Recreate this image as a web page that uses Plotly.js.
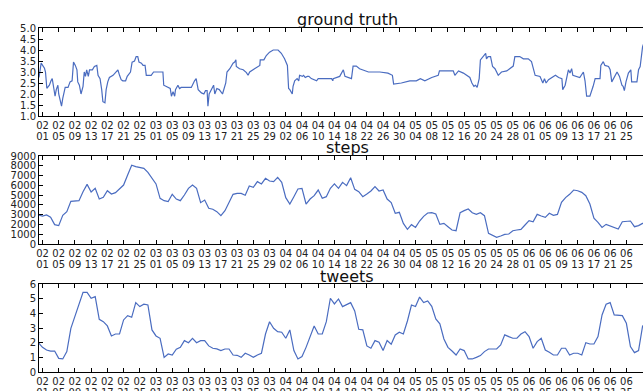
<!DOCTYPE html>
<html>
<head>
<meta charset="utf-8">
<script src="https://cdn.plot.ly/plotly-3.0.1.min.js"></script>
<style>
html,body{margin:0;padding:0;background:#fff;overflow:hidden;}
#chart{width:643px;height:391px;}
</style>
</head>
<body>
<div id="chart"></div>
<script>
// ---------- DATA ----------
const panelTitles = ['ground truth', 'steps', 'tweets'];

// ground truth: irregular samples, day offset from 2015-02-01 and value
const gtDay = [-0.86,-0.33,0.49,0.74,1.07,1.3,1.7,2.1,2.4,2.8,3.1,3.4,3.8,4.0,4.4,4.7,5.0,5.6,6.3,6.8,7.3,7.65,8.1,8.5,8.7,9.1,9.5,10.0,10.3,10.6,10.9,11.3,11.6,12.3,12.8,13.4,13.7,14.2,14.6,14.9,15.4,15.7,16.1,16.5,17.4,18.2,18.6,19.0,19.4,19.8,20.5,20.9,21.7,22.1,22.7,23.1,23.5,23.8,24.4,24.8,25.3,25.6,26.8,27.4,29.7,29.9,30.9,31.5,31.8,32.2,32.6,32.8,33.4,33.8,34.2,36.7,37.5,37.9,38.4,39.2,39.8,40.2,40.6,40.8,41.1,41.6,42.2,42.5,43.0,43.6,44.4,45.2,45.5,46.2,47.0,47.4,47.7,47.8,48.6,49.5,50.3,50.7,51.1,52.3,53.6,53.7,54.6,55.2,56.0,56.9,58.1,58.9,59.7,60.4,60.7,61.0,61.4,61.6,61.8,62.2,62.8,63.2,63.4,64.1,64.4,64.8,65.3,65.7,66.3,67.6,68.0,71.3,71.6,71.7,73.3,73.8,74.2,74.6,75.8,76.2,76.6,77.4,78.2,79.5,80.4,83.2,85.2,86.3,86.6,88.5,90.6,92.2,93.2,94.3,96.0,97.6,97.9,101.3,101.7,102.6,103.8,105.4,105.9,106.4,106.8,107.2,107.7,108.0,108.7,109.3,109.5,109.9,110.5,111.0,111.6,112.4,113.2,114.5,116.1,116.5,117.7,118.6,119.8,120.6,121.5,122.7,123.4,123.8,124.2,124.8,126.5,127.3,128.1,128.3,128.9,129.7,130.1,130.5,130.8,132.5,133.4,133.8,134.2,135.0,135.8,136.3,137.5,137.7,138.3,138.7,139.6,140.0,140.4,141.2,141.7,142.3,142.9,143.2,143.5,143.9,144.5,145.1,145.3,146.6,147.0,147.4,147.6,148.0,148.3];
const gtVal = [2.75,3.4,3.17,3.0,2.26,2.3,2.4,2.6,2.7,2.25,1.9,2.2,2.4,2.0,1.75,1.45,1.8,2.3,2.3,2.55,2.6,3.45,3.3,3.1,2.55,2.4,2.0,2.35,3.0,2.8,3.1,2.8,3.1,3.1,3.25,3.3,2.85,2.7,2.2,1.65,1.6,2.2,2.55,2.75,2.85,3.0,3.1,2.85,2.65,2.6,2.6,2.8,3.0,3.45,3.5,3.7,3.7,3.45,3.4,3.3,3.3,2.85,2.85,3.0,3.0,2.4,2.3,2.25,1.9,2.1,1.9,2.2,2.4,2.25,2.3,2.3,2.6,2.7,2.2,2.05,2.0,2.15,2.15,1.45,2.0,2.2,2.4,2.0,2.25,2.2,2.0,2.5,3.0,3.15,3.4,3.45,3.55,3.25,3.15,3.1,2.97,2.85,3.0,3.15,3.3,3.55,3.55,3.75,3.9,4.0,4.0,3.85,3.6,3.3,2.25,2.2,2.1,2.0,2.35,2.6,2.7,2.6,2.85,2.8,2.85,2.75,2.8,2.8,2.7,2.6,2.7,2.7,2.6,2.7,2.8,2.97,3.1,2.8,2.7,2.7,3.27,3.27,3.15,3.05,3.0,3.0,2.95,2.85,2.45,2.5,2.6,2.6,2.7,2.6,2.75,2.85,3.05,3.05,2.85,3.05,2.95,2.75,2.5,2.35,2.4,2.3,2.7,3.55,3.7,3.85,3.6,3.7,3.7,3.25,3.15,2.85,3.0,3.05,3.27,3.7,3.7,3.6,3.6,3.47,2.85,2.8,2.5,2.7,2.5,2.65,2.85,2.75,2.7,2.2,2.4,3.1,2.95,3.15,2.85,2.75,3.0,2.6,1.9,1.9,2.35,2.7,2.7,3.3,3.47,3.3,3.25,3.1,2.55,2.8,3.0,2.8,2.4,2.35,2.15,2.55,2.95,3.1,2.55,2.55,3.1,3.25,3.55,4.15,4.3];

// steps & tweets: daily values from 2015-01-31 to 2015-06-30
const dailyStart = '2015-01-31';
const steps = [2970,2860,2970,2730,1980,1880,2930,3300,4360,4430,4430,
  5350,6100,5320,5690,4600,4770,5450,5110,5250,5690,
  6030,7060,8050,7910,7810,7740,7330,6720,6140,4670,
  4430,4330,5080,4600,4430,5010,5690,6030,5690,4230,
  4500,3650,3550,3310,2900,3410,4330,5080,5180,5180,
  4980,5930,5800,6380,6140,6720,6440,6380,6820,6310,
  4740,4090,4840,5630,5690,4090,4600,4940,5520,4670,
  4840,5690,6140,5690,6310,5970,6780,5590,5350,4840,
  5110,5420,5860,5420,5520,4600,4230,3140,3240,2110,
  1500,1980,1700,2350,2830,3170,3200,3070,2010,2110,
  1770,1430,1360,3200,3410,3580,3200,3030,3200,2900,
  1090,850,680,820,990,1020,1360,1430,1500,1940,
  2390,2280,3030,2860,2730,3140,2930,3030,4260,4740,
  5080,5520,5450,5280,4940,4090,2630,2220,1700,2010,
  1840,1670,1530,2280,2280,2350,1770,1880,2110,2300];
const tweets = [2.02,1.7,1.52,1.45,1.45,0.95,0.91,1.41,3.0,3.8,4.7,
  5.45,5.45,5.05,5.16,3.61,3.45,3.16,2.48,2.61,2.61,
  3.57,3.86,3.75,4.75,4.48,4.64,4.59,2.89,2.48,2.32,
  1.02,1.25,1.18,1.57,1.7,2.16,2.02,2.32,2.02,2.16,
  2.16,1.8,1.64,1.6,1.48,1.59,1.59,1.18,1.16,1.02,
  1.3,1.18,1.02,1.18,1.3,2.61,3.45,3.0,2.77,2.73,
  2.32,2.89,1.48,0.91,1.07,1.7,2.48,3.16,2.61,2.61,
  3.45,5.05,4.66,5.0,4.48,4.59,4.75,4.18,2.93,2.89,
  1.8,1.64,2.16,2.05,1.48,2.16,1.91,2.55,2.73,2.61,
  3.5,4.59,4.48,5.13,4.76,4.87,4.5,3.64,3.3,2.27,
  1.7,1.45,1.18,1.59,1.48,0.91,0.91,1.02,1.14,1.41,
  1.59,1.59,1.59,1.86,2.55,2.43,2.32,2.32,2.61,2.77,
  2.43,1.64,2.09,2.32,1.52,1.36,1.18,1.18,1.64,1.64,
  1.18,1.3,1.3,1.18,2.02,1.93,1.93,2.43,3.91,4.64,
  4.75,3.91,3.91,3.86,3.34,1.75,1.34,1.48,3.16,3.2];

const tickLabels = ['02/01','02/05','02/09','02/13','02/17','02/21','02/25','03/01','03/05','03/09','03/13','03/17','03/21','03/25','03/29','04/02','04/06','04/10','04/14','04/18','04/22','04/26','04/30','05/04','05/08','05/12','05/16','05/20','05/24','05/28','06/01','06/05','06/09','06/13','06/17','06/21','06/25','06/29'];
const yearOf = 2015;
const xRangeDays = [-0.86, 148.1];

// ---------- BUILD ----------
const DAY = 864e5;
const T0 = Date.UTC(2015, 1, 1);
const toMs = d => T0 + d * DAY;
const gtX = gtDay.map(toMs);
const ds = dailyStart.split('-').map(Number);
const D0 = Date.UTC(ds[0], ds[1]-1, ds[2]);
const dailyX = steps.map((_, i) => D0 + i * DAY);
const tickVals = tickLabels.map(s => { const [m, d] = s.split('/').map(Number); return Date.UTC(yearOf, m-1, d); });
const monthText = tickLabels.map(s => s.split('/')[0]);
const dayText = tickLabels.map(s => s.split('/')[1]);

const lineColor = '#4a6cc0';
const font = {family: 'DejaVu Sans, sans-serif', size: 10, color: '#222'};
const xr = [toMs(xRangeDays[0]), toMs(xRangeDays[1])];

const traces = [
  {x: gtX, y: gtVal, xaxis: 'x', yaxis: 'y'},
  {x: dailyX, y: steps, xaxis: 'x2', yaxis: 'y2'},
  {x: dailyX, y: tweets, xaxis: 'x3', yaxis: 'y3'}
].map(t => Object.assign(t, {type: 'scatter', mode: 'lines', line: {color: lineColor, width: 1.2}, hoverinfo: 'skip'}));
// invisible helper traces so the day-label axes are drawn
['x4','x5','x6'].forEach((xa, i) => traces.push({type: 'scatter', mode: 'lines', x: [xr[0]], y: [null], xaxis: xa, yaxis: ['y','y2','y3'][i], hoverinfo: 'skip', showlegend: false}));

const H = 391;
const dom = (top, bot) => [1 - bot / H, 1 - top / H];
const xBase = (anchor) => ({
  type: 'date', anchor: anchor, domain: [0, 1], range: xr,
  tickmode: 'array', tickvals: tickVals, ticktext: monthText,
  ticks: 'inside', ticklen: 4, tickcolor: '#000', tickwidth: 1,
  showline: true, linecolor: '#000', linewidth: 1, mirror: 'ticks',
  showgrid: false, zeroline: false, tickfont: font, tickangle: 0,
  ticklabelstandoff: 0
});
const xDays = (over, anchor) => ({
  type: 'date', overlaying: over, anchor: anchor, side: 'bottom', range: xr,
  tickmode: 'array', tickvals: tickVals, ticktext: dayText,
  ticks: '', showline: false, showgrid: false, zeroline: false,
  tickfont: font, tickangle: 0, ticklabelstandoff: 13
});
const yBase = (anchor, domain, range, dtick, fmt) => ({
  anchor: anchor, domain: domain, range: range, dtick: dtick, tick0: 0,
  tickformat: fmt, ticks: 'inside', ticklen: 4, tickcolor: '#000',
  showline: true, linecolor: '#000', linewidth: 1, mirror: false,
  showgrid: false, zeroline: false, tickfont: font
});

const titleFont = {family: 'DejaVu Sans, sans-serif', size: 16, color: '#111'};
const titleY = [19.5, 147.5, 276];
const layout = {
  width: 643, height: 391,
  margin: {l: 39, r: 0, t: 0, b: 0},
  paper_bgcolor: '#fff', plot_bgcolor: '#fff',
  showlegend: false,
  xaxis: xBase('y'), xaxis2: xBase('y2'), xaxis3: xBase('y3'),
  xaxis4: xDays('x', 'y'), xaxis5: xDays('x2', 'y2'), xaxis6: xDays('x3', 'y3'),
  yaxis: yBase('x', dom(28, 116), [1, 5], 0.5, '.1f'),
  yaxis2: yBase('x2', dom(156, 244), [0, 9000], 1000, 'd'),
  yaxis3: yBase('x3', dom(284.3, 372.3), [0, 6], 1, 'd'),
  annotations: panelTitles.map((t, i) => ({
    text: t, xref: 'paper', yref: 'paper', x: (347 - 39) / 604, y: 1 - titleY[i] / H,
    xanchor: 'center', yanchor: 'middle', showarrow: false, font: titleFont
  }))
};

Plotly.newPlot('chart', traces, layout, {staticPlot: true, displayModeBar: false});
</script>
</body>
</html>
